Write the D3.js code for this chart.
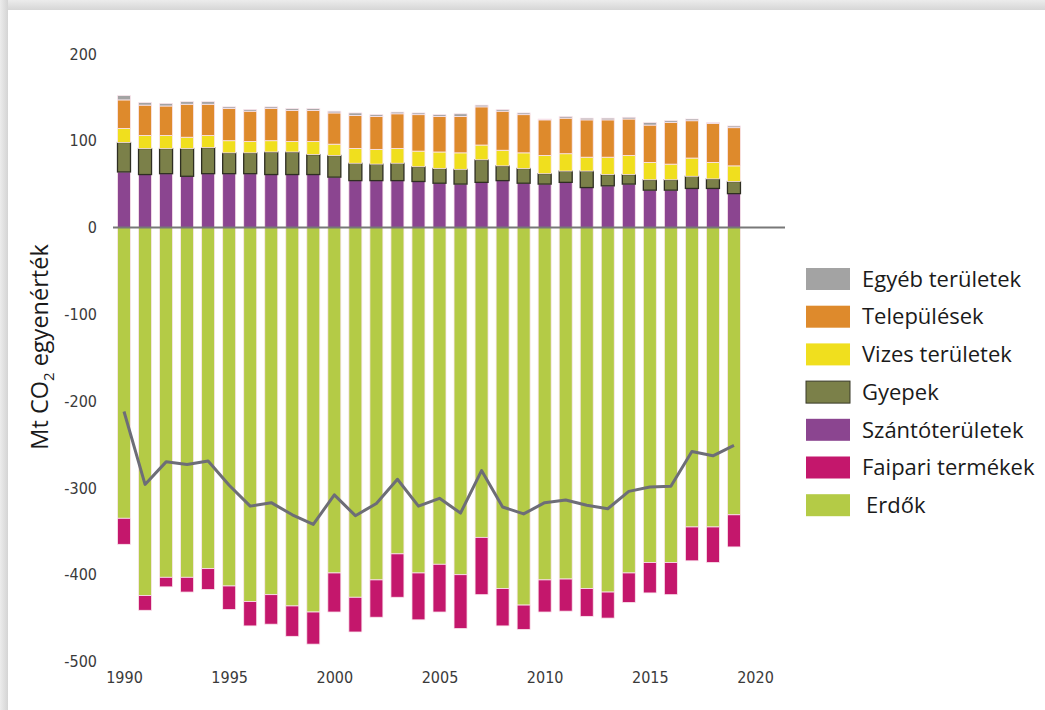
<!DOCTYPE html>
<html>
<head>
<meta charset="utf-8">
<script src="https://cdn.jsdelivr.net/npm/d3@7"></script>
<style>
  html, body { margin: 0; padding: 0; background: #fff; }
  svg { display: block; }
</style>
</head>
<body>
<svg id="chart" width="1045" height="710"></svg>
<script>
// LULUCF net emissions/removals, Mt CO2 equivalent, 1990–2019
const years = d3.range(1990, 2020);

const szanto     = [64, 61, 62, 59, 62, 62, 62, 61, 61, 61, 58, 54, 54, 54, 53, 51, 50, 52, 54, 51, 50, 52, 46, 48, 50, 43, 43, 45, 45, 39];
const gyepek     = [34, 30, 29, 32, 30, 24, 24, 26, 26, 23, 25, 20, 19, 20, 17, 17, 17, 26, 17, 17, 12, 13, 19, 13, 11, 12, 12, 14, 11, 14];
const vizes      = [16, 15, 15, 13, 14, 14, 13, 13, 12, 15, 13, 17, 17, 17, 18, 19, 19, 17, 18, 18, 21, 20, 16, 20, 22, 20, 18, 21, 19, 18];
const telepulesek= [33, 35, 34, 38, 36, 37, 35, 37, 36, 36, 36, 38, 38, 40, 42, 41, 42, 44, 45, 44, 41, 41, 43, 43, 42, 43, 48, 43, 45, 44];
const egyeb      = [5, 3, 3, 3, 3, 2, 2, 2, 2, 2, 2, 3, 2, 2, 2, 2, 3, 2, 2, 2, 1, 2, 2, 2, 2, 3, 2, 2, 1, 2];
const erdok      = [-335, -424, -403, -403, -393, -413, -431, -423, -436, -443, -398, -426, -406, -376, -398, -388, -400, -357, -416, -435, -406, -405, -416, -420, -398, -386, -386, -345, -345, -331];
const faipari    = [-30, -17, -11, -17, -24, -27, -28, -34, -35, -37, -45, -40, -43, -50, -54, -55, -62, -66, -43, -28, -37, -37, -32, -30, -34, -35, -37, -39, -41, -37];
const netTotal   = [-212, -296, -270, -273, -269, -297, -321, -317, -331, -342, -308, -332, -318, -290, -321, -312, -329, -280, -322, -330, -317, -314, -320, -324, -304, -299, -298, -258, -263, -251];

const yTicks = [200, 100, 0, -100, -200, -300, -400, -500];
const xTicks = [1990, 1995, 2000, 2005, 2010, 2015, 2020];

// stacking order (positive upward, negative downward from zero)
const seriesKeys = ["Szántóterületek", "Gyepek", "Vizes területek", "Települések", "Egyéb területek", "Erdők", "Faipari termékek"];
const seriesData = [szanto, gyepek, vizes, telepulesek, egyeb, erdok, faipari];
const colors = {
  "Egyéb területek": "#a3a3a3",
  "Települések": "#de8a2c",
  "Vizes területek": "#f0df1e",
  "Gyepek": "#7b8049",
  "Szántóterületek": "#8b4590",
  "Faipari termékek": "#c4176c",
  "Erdők": "#b4cb46"
};
const legendOrder = ["Egyéb területek", "Települések", "Vizes területek", "Gyepek", "Szántóterületek", "Faipari termékek", "Erdők"];

const rows = years.map((yr, i) => {
  const r = { year: yr };
  seriesKeys.forEach((k, j) => { r[k] = seriesData[j][i]; });
  return r;
});

const svg = d3.select("#chart");
const W = 1045, H = 710;

// card frame with soft shadow at top and left
const defs = svg.append("defs");
const gTop = defs.append("linearGradient").attr("id", "shTop").attr("x1", 0).attr("y1", 0).attr("x2", 0).attr("y2", 1);
gTop.append("stop").attr("offset", "0%").attr("stop-color", "#ececec");
gTop.append("stop").attr("offset", "100%").attr("stop-color", "#d6d6d6");
const gLeft = defs.append("linearGradient").attr("id", "shLeft").attr("x1", 0).attr("y1", 0).attr("x2", 1).attr("y2", 0);
gLeft.append("stop").attr("offset", "0%").attr("stop-color", "#ececec");
gLeft.append("stop").attr("offset", "100%").attr("stop-color", "#d4d4d4");

svg.append("rect").attr("width", W).attr("height", H).attr("fill", "#fff");
svg.append("rect").attr("x", 0).attr("y", 0).attr("width", W).attr("height", 10).attr("fill", "url(#shTop)");
svg.append("rect").attr("x", 0).attr("y", 0).attr("width", 8).attr("height", H).attr("fill", "url(#shLeft)");

const x = d3.scaleLinear().domain([1990, 2020]).range([124, 755]);
const y = d3.scaleLinear().domain([-500, 200]).range([661.5, 53.9]);
const barW = 13;

const stack = d3.stack().keys(seriesKeys).offset(d3.stackOffsetDiverging);
const stacked = stack(rows);

const barsG = svg.append("g");
stacked.forEach(layer => {
  const key = layer.key;
  barsG.append("g")
    .selectAll("rect")
    .data(layer)
    .join("rect")
    .attr("x", d => x(d.data.year) - barW / 2)
    .attr("width", barW)
    .attr("y", d => y(Math.max(d[0], d[1])))
    .attr("height", d => Math.abs(y(d[0]) - y(d[1])))
    .attr("fill", colors[key])
    .attr("stroke", key === "Gyepek" ? "#2e2e22" : "#fbe6ee")
    .attr("stroke-width", key === "Gyepek" ? 1.3 : 0.8);
});

// zero baseline
svg.append("line")
  .attr("x1", 113).attr("x2", 785)
  .attr("y1", y(0)).attr("y2", y(0))
  .attr("stroke", "#787878").attr("stroke-width", 2);

// net total line
const line = d3.line().x((d, i) => x(years[i])).y(d => y(d));
svg.append("path")
  .datum(netTotal)
  .attr("d", line)
  .attr("fill", "none")
  .attr("stroke", "#6d6d77")
  .attr("stroke-width", 3)
  .attr("stroke-linejoin", "round");

// axes (plain hyphen for negative numbers)
const tickFont = "'DejaVu Sans Condensed', 'DejaVu Sans', sans-serif";
const yAxis = svg.append("g")
  .attr("transform", "translate(97,0)")
  .call(d3.axisLeft(y).tickValues(yTicks).tickSize(0).tickPadding(0).tickFormat(d => String(d)));
yAxis.select(".domain").remove();
yAxis.selectAll("text")
  .attr("font-family", tickFont).attr("font-size", 16).attr("fill", "#3a3a3a");

const xAxis = svg.append("g")
  .attr("transform", "translate(0,672)")
  .call(d3.axisBottom(x).tickValues(xTicks).tickSize(0).tickPadding(0).tickFormat(d => String(d)));
xAxis.select(".domain").remove();
xAxis.selectAll("text")
  .attr("font-family", tickFont).attr("font-size", 16).attr("fill", "#3a3a3a");

// y-axis title
const title = svg.append("text")
  .attr("transform", "translate(48,347) rotate(-90)")
  .attr("text-anchor", "middle")
  .attr("font-family", "'Open Sans', sans-serif")
  .attr("font-size", 23.5)
  .attr("fill", "#1a1a1a");
title.append("tspan").text("Mt CO");
title.append("tspan").attr("font-size", 15).attr("dy", 6).text("2");
title.append("tspan").attr("dy", -6).text(" egyenérték");

// legend
const legend = svg.append("g");
legendOrder.forEach((k, i) => {
  const cy = 279 + i * 37.7;
  legend.append("rect")
    .attr("x", 806).attr("y", cy - 11)
    .attr("width", 44).attr("height", 22)
    .attr("fill", colors[k])
    .attr("stroke", k === "Gyepek" ? "#3a3a2a" : "none")
    .attr("stroke-width", 1);
  legend.append("text")
    .attr("x", k === "Erdők" ? 866 : 862).attr("y", cy)
    .attr("dy", "0.35em")
    .attr("font-family", "'Open Sans', sans-serif")
    .attr("font-size", 22)
    .attr("fill", "#1a1a1a")
    .text(k);
});
</script>
</body>
</html>
